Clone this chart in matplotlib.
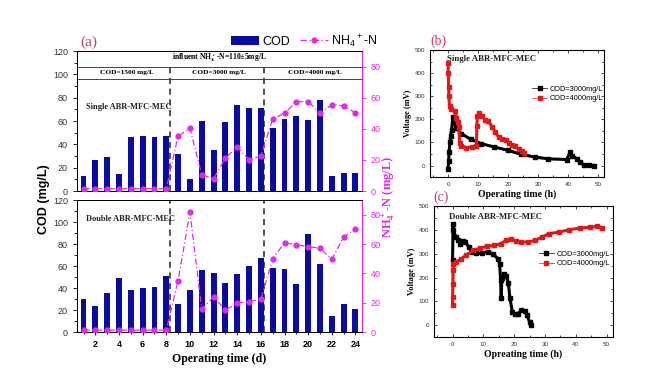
"""Panel (a): COD / NH4+-N per day for single and double ABR-MFC-MEC;
panels (b), (c): voltage curves over one cycle."""

import matplotlib

matplotlib.use("Agg")
import matplotlib.pyplot as plt
from matplotlib.ticker import MultipleLocator

# ---- panel (a) data ----
days = list(range(1, 25))
cod_single = [13, 26.5, 29, 15, 46.5, 47, 46.5, 47, 32, 10.5, 60, 35, 59, 74,
              71.5, 71.5, 54, 61.5, 64.5, 60.5, 78, 13, 15.5, 15.5]
nh4_single = [1.5, 1.5, 1.5, 1.5, 1.5, 1.5, 1.5, 1.5, 35.3, 40.4, 10.5, 7.9,
              21.2, 28.2, 20.1, 22.5, 46.4, 50, 57.5, 57.5, 50, 55.6, 54.8, 50.3]
cod_double = [30, 24, 35.5, 49.5, 38, 40.2, 40.8, 50.5, 25.5, 37.8, 56.3, 53.5,
              44.3, 53, 60, 67.5, 58, 57.5, 44, 89.5, 62, 15, 25.8, 21.3]
nh4_double = [1.3, 1.3, 1.3, 1.3, 1.3, 1.3, 1.3, 1.3, 35, 81.8, 15.5, 24, 14.9,
              19.9, 20.6, 22.4, 49.8, 61, 59.4, 58.3, 57.1, 49.6, 64.7, 70.4]
phase_labels = ["COD=1500 mg/L", "COD=3000 mg/L", "COD=4000 mg/L"]

# ---- panel (b) single ABR-MFC-MEC voltage ----
b_t_3000 = [0.0, 0.2, 0.4, 0.6, 0.9, 1.2, 1.6, 2.7, 4.4, 7.7, 11.0, 15.5, 20.0,
            24.4, 28.9, 33.4, 39.6, 40.8, 41.5, 43.0, 44.1, 45.2, 46.9, 48.6]
b_v_3000 = [-15, 20, 60, 100, 130, 155, 210, 162, 138, 113, 95, 80, 66, 48, 37,
            29, 26, 60, 42, 29, 14, 4, 3, 0]
b_t_4000 = [0.0, 0.1, 0.2, 0.3, 0.5, 1.0, 2.3, 2.8, 3.3, 3.6, 3.9, 4.4, 6.0,
            8.0, 9.5, 9.6, 9.8, 10.5, 11.3, 12.4, 13.5, 14.7, 15.8, 16.9, 18.0,
            19.2, 20.3, 21.4, 22.5, 23.6, 24.8, 25.5]
b_v_4000 = [445, 400, 340, 300, 257, 245, 236, 206, 190, 167, 97, 86, 78, 79,
            86, 170, 213, 227, 213, 198, 191, 167, 143, 122, 116, 112, 97, 87,
            83, 71, 61, 55]

# ---- panel (c) double ABR-MFC-MEC voltage ----
c_t_3000 = [0.0, 0.2, 0.3, 1.1, 1.9, 2.5, 3.4, 4.2, 5.3, 6.4, 7.5, 9.7, 11.4,
            13.1, 14.7, 15.3, 15.6, 15.8, 16.0, 16.6, 17.5, 18.1, 18.6, 19.4,
            20.3, 21.2, 22.3, 23.4, 24.2, 25.0, 25.6]
c_v_3000 = [272, 423, 398, 370, 356, 342, 353, 349, 328, 307, 302, 302, 309, 300,
            279, 258, 188, 112, 200, 214, 207, 179, 116, 56, 46, 48, 62, 59, 41,
            13, 0]
c_t_4000 = [0.0, 0.05, 0.1, 0.2, 0.3, 1.2, 2.9, 4.5, 6.8, 9.0, 11.2, 13.4, 15.7,
            17.3, 19.0, 20.7, 22.3, 24.5, 26.8, 29.0, 31.2, 34.6, 37.9, 41.3,
            44.6, 46.8, 48.5]
c_v_4000 = [84, 118, 174, 230, 258, 265, 279, 296, 314, 324, 331, 335, 342, 356,
            363, 353, 349, 349, 356, 370, 384, 391, 401, 408, 412, 415, 410]

BLUE = "#0b0ba0"
MAGENTA = "#e02ce0"
ROSE = "#c8406e"
SERIF = "Liberation Serif"

plt.rcParams["font.family"] = ["Liberation Sans", "DejaVu Sans"]
plt.rcParams["mathtext.default"] = "regular"

fig = plt.figure(figsize=(6.55, 3.76), dpi=100)

ax_top = fig.add_axes([0.1176, 0.492, 0.435, 0.372])
ax_bot = fig.add_axes([0.1176, 0.117, 0.435, 0.351])


def draw_cod_panel(ax, cod, nh4, text, dash_top):
    bars = ax.bar(days, cod, width=0.5, color=BLUE, zorder=2)
    ax.set_xlim(0.45, 24.55)
    ax.set_ylim(0, 120)
    ax.yaxis.set_major_locator(MultipleLocator(20))
    ax.yaxis.set_minor_locator(MultipleLocator(10))
    ax.xaxis.set_major_locator(MultipleLocator(2))
    ax.xaxis.set_minor_locator(MultipleLocator(1))
    ax.tick_params(axis="y", which="both", direction="out", labelsize=6.5,
                   labelcolor="#333333", length=3, width=0.6)
    ax.tick_params(axis="y", which="minor", length=2)
    for x in (8.3, 16.3):
        ax.plot([x, x], [0, dash_top], ls=(0, (4, 3)), color="#222222",
                lw=1.1, zorder=3)
    ax.text(0.03, text[1], text[0], transform=ax.transAxes, fontsize=6,
            fontweight="bold", family=SERIF, color="#222222", va="center")

    ax2 = ax.twinx()
    line, = ax2.plot(days, nh4, color=MAGENTA, lw=0.9,
                     ls=(0, (5, 2, 1, 2)), marker="o", ms=3.5, zorder=4)
    ax2.set_ylim(0, 90)
    ax2.yaxis.set_major_locator(MultipleLocator(20))
    ax2.tick_params(axis="y", colors=MAGENTA, labelsize=6.5, length=3,
                    width=0.6)
    ax2.spines["right"].set_color(MAGENTA)
    for a in (ax, ax2):
        for s in ("top", "left", "bottom"):
            a.spines[s].set_linewidth(0.7)
    ax2.spines["right"].set_linewidth(0.7)
    return bars, line


bars, line = draw_cod_panel(ax_top, cod_single, nh4_single,
                            ("Single ABR-MFC-MEC", 0.6), 106.5)
draw_cod_panel(ax_bot, cod_double, nh4_double,
               ("Double ABR-MFC-MEC", 0.86), 120)

ax_top.tick_params(axis="x", which="both", bottom=False, labelbottom=False)
ax_bot.tick_params(axis="x", which="both", direction="inout", length=4,
                   width=0.6, labelsize=6.5)
ax_bot.tick_params(axis="x", which="minor", length=3)
for lab in ax_bot.get_xticklabels():
    lab.set_fontweight("bold")

# header bands in the top panel
for y in (106.5, 96.3):
    ax_top.axhline(y, color="#444444", lw=0.7, zorder=3)
ax_top.text(12.5, 114, "influent NH$_4^+$-N=110±5mg/L", ha="center",
            va="center", fontsize=5.5, fontweight="bold", family=SERIF)
for x, lab in zip((4.65, 12.45, 20.55), phase_labels):
    ax_top.text(x, 101.3, lab, ha="center", va="center", fontsize=5.3,
                fontweight="bold", family=SERIF)

fig.text(0.067, 0.47, "COD (mg/L)", rotation=90, ha="center", va="center",
         fontsize=9, fontweight="bold")
fig.text(0.594, 0.475, "NH$_4^+$-N (mg/L)", rotation=90, ha="center",
         va="center", fontsize=9, fontweight="bold", family=SERIF,
         color=MAGENTA)
ax_bot.set_xlabel("Operating time (d)", fontsize=8.5, fontweight="bold",
                  family=SERIF, labelpad=3)
fig.text(0.122, 0.888, "(a)", fontsize=11, family=SERIF, color=ROSE,
         va="center")
fig.legend([bars, line], ["COD", "NH$_4$$^+$-N"], loc="center",
           bbox_to_anchor=(0.465, 0.891), ncol=2, frameon=False, fontsize=9,
           handlelength=2.2, columnspacing=0.8, handletextpad=0.3)


def draw_voltage(rect, t1, v1, t2, v2, title, letter, leg_anchor, xlabel):
    ax = fig.add_axes(rect)
    ax.plot(t1, v1, color="black", lw=2.2, marker="s", ms=2.2,
            label="COD=3000mg/L")
    ax.plot(t2, v2, color="#e01818", lw=2.2, marker="s", ms=2.2,
            label="COD=4000mg/L")
    ax.set_xlim(-6, 52)
    ax.set_ylim(-50, 500)
    ax.xaxis.set_major_locator(MultipleLocator(10))
    ax.xaxis.set_minor_locator(MultipleLocator(5))
    ax.yaxis.set_major_locator(MultipleLocator(100))
    ax.yaxis.set_minor_locator(MultipleLocator(50))
    ax.tick_params(which="both", direction="in", top=True, right=True,
                   labelsize=4.5, length=2.2, width=0.5, labelcolor="#333333")
    ax.tick_params(which="minor", length=1.3)
    for s in ax.spines.values():
        s.set_linewidth(0.8)
    ax.set_ylabel("Voltage (mV)", fontsize=6, fontweight="bold", family=SERIF,
                  labelpad=2)
    ax.set_xlabel(xlabel, fontsize=7, fontweight="bold", family=SERIF,
                  labelpad=2)
    ax.text(title[1], title[2], title[0], transform=ax.transAxes,
            fontsize=6.3, fontweight="bold", family=SERIF, color="#222222",
            va="center")
    leg = ax.legend(loc="upper left", bbox_to_anchor=leg_anchor, fontsize=5.3,
                    frameon=False, handlelength=2.0, handletextpad=0.4,
                    labelspacing=0.3)
    for h in leg.legend_handles:
        h.set_linewidth(0.5)
        h.set_markersize(2.5)
    fig.text(letter[1], letter[2], letter[0], fontsize=10, family=SERIF,
             color=ROSE, va="center")
    return ax


draw_voltage([0.6565, 0.529, 0.2656, 0.338], b_t_3000, b_v_3000, b_t_4000,
             b_v_4000, ("Single ABR-MFC-MEC", 0.10, 0.93),
             ("(b)", 0.657, 0.89), (0.55, 0.77), "Operating time (h)")
draw_voltage([0.6626, 0.1037, 0.273, 0.348], c_t_3000, c_v_3000, c_t_4000,
             c_v_4000, ("Double ABR-MFC-MEC", 0.084, 0.916),
             ("(c)", 0.661, 0.475), (0.55, 0.71), "Opreating time (h)")

fig.savefig("out.png", dpi=100)
